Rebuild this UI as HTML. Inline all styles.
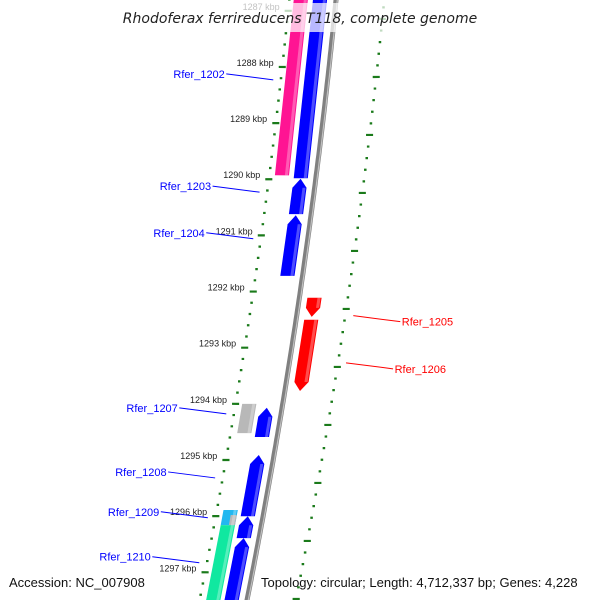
<!DOCTYPE html>
<html><head><meta charset="utf-8"><style>
html,body{margin:0;padding:0;background:#fff}
svg{display:block;font-family:"Liberation Sans",sans-serif}
</style></head><body>
<svg id="map" width="600" height="600" viewBox="0 0 600 600" xmlns="http://www.w3.org/2000/svg">
<rect width="600" height="600" fill="#fff"/>
<g id="ticks"></g>
<g id="genes"></g>
<g id="labels"></g>
<rect x="118" y="3" width="364" height="29" fill="#fff" opacity="0.72"/>
<text x="300" y="23" text-anchor="middle" font-size="14" font-style="italic" fill="#222" style="font-family:'DejaVu Sans',sans-serif">Rhodoferax ferrireducens T118, complete genome</text>
<text x="9" y="587" font-size="13" fill="#111">Accession: NC_007908</text>
<text x="261" y="587" font-size="13" fill="#111">Topology: circular; Length: 4,712,337 bp; Genes: 4,228</text>
</svg>
<script>
// ---- data ----
const geneNames = ["Rfer_1202a","Rfer_1202","Rfer_1203","Rfer_1204","Rfer_1205","Rfer_1206","Rfer_1207a","Rfer_1207","Rfer_1208","Rfer_1209a","Rfer_1209","Rfer_1209b","Rfer_1210","Rfer_1210b"];
const geneStart = [1285.5,1285.5,1289.99,1290.64,1292.11,1292.50,1294.07,1294.00,1294.91,1296.00,1295.89,1295.98,1296.16,1296.39];
const geneEnd   = [1289.98,1289.93,1290.62,1291.72,1292.45,1293.77,1294.59,1294.52,1296.00,1296.39,1296.16,1296.16,1297.8,1297.8];
const geneStrand= [1,0,1,1,-1,-1,1,0,1,1,0,0,0,1];
const geneLane  = [-15,-34,-15,-15,15,15,-15,-33,-15,-15,-33,-29,-33,-15];
const geneWidth = [7,7,7,7,7,7,7,7,7,7,7,3,7,7];
const geneColor = ["#0000ff","#ff1493","#0000ff","#0000ff","#ff0000","#ff0000","#0000ff","#b8b8b8","#0000ff","#0000ff","#22b8f0","#b8b8b8","#10e8a0","#0000ff"];
const labelText = ["Rfer_1202","Rfer_1203","Rfer_1204","Rfer_1205","Rfer_1206","Rfer_1207","Rfer_1208","Rfer_1209","Rfer_1210"];
const labelKbp  = [1288.23,1290.23,1291.06,1292.43,1293.27,1294.18,1295.32,1296.03,1296.83];
const labelSide = [-1,-1,-1,1,1,-1,-1,-1,-1];
const tickKbp = [1287,1288,1289,1290,1291,1292,1293,1294,1295,1296,1297];
const tickLabels = ["1287 kbp","1288 kbp","1289 kbp","1290 kbp","1291 kbp","1292 kbp","1293 kbp","1294 kbp","1295 kbp","1296 kbp","1297 kbp"];

// ---- axis functions ----
const NS="http://www.w3.org/2000/svg";
function yOf(k){return 67+(k-1288)*56.15;}
function base(y){return 336-0.0983*y-0.0000833*y*y;}
function slope(y){return -0.0983-2*0.0000833*y;}
function P(y,off){const s=slope(y);const n=Math.sqrt(1+s*s);return [base(y)+off/n, y - s*off/n];}
function Q(y,off){const s=slope(y);const n=Math.sqrt(1+s*s);return P(y+s*off/n,off);}
function mk(tag,attrs,parent){const e=document.createElementNS(NS,tag);for(const k in attrs)e.setAttribute(k,attrs[k]);parent.appendChild(e);return e;}
const gT=document.getElementById('ticks'),gG=document.getElementById('genes'),gL=document.getElementById('labels');

// backbone
let bb="";for(let y=-5;y<=605;y+=5){const p=P(y,0);bb+=(y<0?"M":"L")+p[0].toFixed(1)+","+p[1].toFixed(1);}
const bbl=mk('path',{d:bb,stroke:"#808080","stroke-width":5,fill:"none"},gG);


const bbh=mk('path',{d:bb,stroke:"#c0c0c0","stroke-width":1.2,fill:"none",transform:"translate(1.3,0)"},gG);



// ticks: inner ring
for(let k=1286.6;k<=1298.2;k+=0.2){
  const y=yOf(k);if(y<-5||y>605)continue;
  const major=Math.abs(k-Math.round(k))<0.01;
  const len=major?7:2.5;
  const a=Q(y,-46.5-len/2),b=Q(y,-46.5+len/2);
  const t=mk('line',{x1:a[0],y1:a[1],x2:b[0],y2:b[1],stroke:"#1a7a1a","stroke-width":2.2},gT);
  
  
}
// outer ring
for(let i=-8;i<60;i++){
  const y=77+i*11.6;if(y<0||y>600)continue;
  const major=(i%5===0);
  const len=major?7:2.5;
  const a=Q(y,48-len/2),b=Q(y,48+len/2);
  const t=mk('line',{x1:a[0],y1:a[1],x2:b[0],y2:b[1],stroke:"#1a7a1a","stroke-width":2.2},gT);
  
  
}
tickKbp.forEach((k,i)=>{
  const y=yOf(k);const p=Q(y,-55);
  const t=mk('text',{x:p[0].toFixed(1),y:(p[1]-1).toFixed(1),"font-size":9,"text-anchor":"end",fill:"#222"},gT);
  t.textContent=tickLabels[i];
  
  
});

// genes
geneNames.forEach((nm,i)=>{
  let y1=yOf(geneStart[i]),y2=yOf(geneEnd[i]);const off=geneLane[i];const st=geneStrand[i];
  const w=geneWidth[i],head=9;
  let pts=[];
  if(st===1){
    const yb=y1+head;
    pts=[Q(y1,off),Q(yb,off+w),Q(y2,off+w),Q(y2,off-w),Q(yb,off-w)];
  }else if(st===-1){
    const yb=y2-head;
    pts=[Q(y1,off-w),Q(y1,off+w),Q(yb,off+w),Q(y2,off),Q(yb,off-w)];
  }else{
    pts=[Q(y1,off-w),Q(y1,off+w),Q(y2,off+w),Q(y2,off-w)];
  }
  const g=mk('polygon',{points:pts.map(p=>p[0].toFixed(1)+","+p[1].toFixed(1)).join(" "),fill:geneColor[i]},gG);
  
  
  const ys=st===1?y1+9:y1, ye=st===-1?y2-9:y2;
  const sp=[Q(ys,off+w-4),Q(ys,off+w-1),Q(ye,off+w-1),Q(ye,off+w-4)];
  const s=mk('polygon',{points:sp.map(p=>p[0].toFixed(1)+","+p[1].toFixed(1)).join(" "),fill:"#fff",opacity:0.3},gG);
  
  
});

// labels
labelText.forEach((txt,i)=>{
  const y=yOf(labelKbp[i]);const side=labelSide[i];
  const col=side<0?"#0000ff":"#ff0000";
  const a=Q(y,side<0?-54:56);
  const bx=a[0]+side*47, by=a[1]-side*-6-(side<0?6:0)-(side<0?6:0)+(side<0?6:0);
  const by2=side<0?a[1]-6:a[1]+6;
  const l=mk('line',{x1:a[0],y1:a[1],x2:bx,y2:by2,stroke:col,"stroke-width":1},gL);
  
  
  const t=mk('text',{x:(bx+side*1.5).toFixed(1),y:(by2+4).toFixed(1),"font-size":11,fill:col,"text-anchor":side<0?"end":"start"},gL);
  t.textContent=txt;
  
  
});
</script>
</body></html>
